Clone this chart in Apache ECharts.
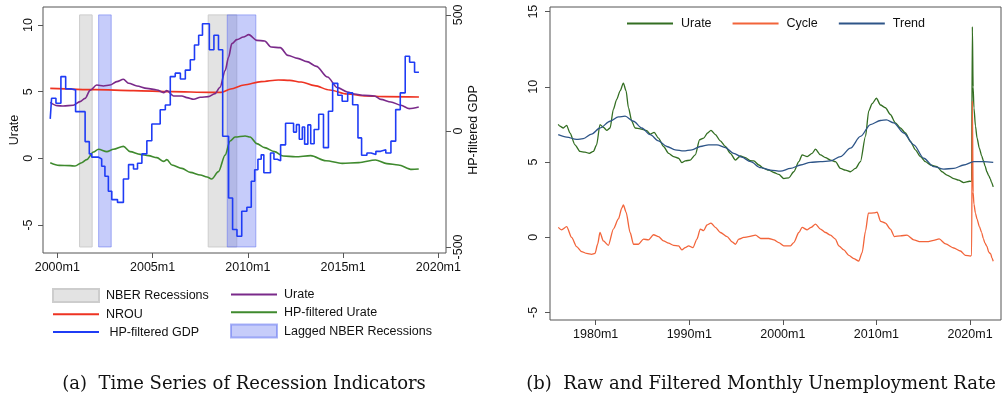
<!DOCTYPE html>
<html>
<head>
<meta charset="utf-8">
<script src="https://cdn.jsdelivr.net/npm/echarts@6.0.0/dist/echarts.min.js"></script>
<style>
  html, body { margin: 0; padding: 0; background: #fff; }
  #chart { width: 1005px; height: 395px; }
</style>
</head>
<body>
<div id="chart"></div>
<script>
// ---------- Panel (a): recession indicators, 1999m8 - 2018m12 (time in years) ----------
const nberRecessions = [[2001.17, 2001.83], [2007.92, 2009.42]];
const laggedNberRecessions = [[2002.17, 2002.83], [2008.92, 2010.42]];
const bandRange = [-500, 500]; // recession shading spans this range of the GDP axis

// HP-filtered GDP: value held from each date until the next one
const hpGdp = [
  [1999.63, 52], [1999.70, 141], [1999.93, 119], [2000.19, 234], [2000.44, 181], [2000.75, 177],
  [2000.96, 83], [2001.46, -46], [2001.68, -99], [2001.81, -113], [2002.16, -121], [2002.33, -152],
  [2002.50, -195], [2002.68, -260], [2002.86, -296], [2003.16, -308], [2003.47, -207], [2003.74, -145],
  [2004.00, -164], [2004.21, -139], [2004.44, -99], [2004.70, -42], [2004.96, 30], [2005.40, 91],
  [2005.67, 112], [2005.93, 234], [2006.19, 249], [2006.46, 224], [2006.72, 262], [2006.98, 307],
  [2007.20, 370], [2007.42, 412], [2007.62, 462], [2007.98, 350], [2008.22, 412], [2008.46, 350],
  [2008.68, -23], [2008.99, -289], [2009.20, -425], [2009.43, -454], [2009.68, -346], [2009.95, -329],
  [2010.18, -217], [2010.36, -167], [2010.53, -122], [2010.70, -103], [2010.84, -180], [2011.19, -95],
  [2011.37, -122], [2011.55, -129], [2011.72, -60], [2011.98, 33], [2012.40, -5], [2012.55, 27],
  [2012.70, -36], [2012.86, 17], [2012.98, -57], [2013.15, 26], [2013.30, -55], [2013.48, 6],
  [2013.72, 72], [2013.97, -72], [2014.23, 85], [2014.45, 205], [2014.72, 154], [2014.95, 128],
  [2015.24, 164], [2015.50, 113], [2015.78, -30], [2015.97, -105], [2016.25, -95], [2016.47, -102],
  [2016.72, -88], [2016.97, -81], [2017.24, -95], [2017.51, -44], [2017.76, 92], [2018.00, 164],
  [2018.26, 322], [2018.49, 296], [2018.75, 253], [2018.98, 253]
];

const urateA = [
  [1999.63, 4.2], [2000.0, 3.95], [2000.32, 3.92], [2000.84, 3.98], [2001.19, 4.25], [2001.46, 4.5],
  [2001.72, 5.1], [2002.07, 5.5], [2002.42, 5.43], [2002.77, 5.5], [2003.12, 5.75], [2003.47, 5.93],
  [2003.74, 5.63], [2004.18, 5.43], [2004.70, 5.25], [2005.23, 5.13], [2005.58, 4.93], [2005.75, 5.08],
  [2006.10, 4.68], [2006.54, 4.68], [2006.80, 4.55], [2007.16, 4.43], [2007.51, 4.58], [2007.93, 4.63],
  [2008.28, 4.85], [2008.54, 5.33], [2008.81, 6.58], [2008.99, 7.58], [2009.16, 8.6], [2009.42, 8.9],
  [2009.77, 9.1], [2010.05, 9.28], [2010.47, 8.85], [2010.88, 8.8], [2011.22, 8.35], [2011.70, 8.3],
  [2012.10, 7.72], [2012.62, 7.5], [2013.10, 7.25], [2013.60, 6.9], [2014.18, 6.1], [2014.70, 5.3],
  [2015.23, 4.98], [2015.60, 4.82], [2016.10, 4.73], [2016.65, 4.68], [2016.98, 4.42], [2017.51, 4.23],
  [2018.04, 3.98], [2018.47, 3.73], [2018.97, 3.85]
];

const nrou = [
  [1999.63, 5.25], [2002.0, 5.15], [2004.0, 5.08], [2006.0, 5.0], [2008.0, 4.95], [2008.6, 4.95],
  [2009.1, 5.2], [2009.8, 5.5], [2010.7, 5.75], [2011.6, 5.88], [2012.2, 5.85], [2012.8, 5.72],
  [2013.5, 5.45], [2014.3, 5.12], [2015.2, 4.82], [2016.2, 4.68], [2017.2, 4.63], [2018.98, 4.6]
];

const hpUrate = [
  [1999.63, -0.33], [2000.1, -0.53], [2000.67, -0.55], [2000.93, -0.58], [2001.28, -0.33], [2001.54, -0.1],
  [2001.9, 0.48], [2002.16, 0.68], [2002.6, 0.5], [2002.95, 0.68], [2003.47, 0.9], [2003.82, 0.5],
  [2004.35, 0.3], [2004.79, 0.2], [2005.23, 0.05], [2005.58, -0.23], [2005.75, -0.1], [2006.02, -0.5],
  [2006.54, -0.75], [2006.98, -1.05], [2007.51, -1.25], [2007.86, -1.4], [2008.1, -1.55], [2008.46, -1.0],
  [2008.81, 0.25], [2009.07, 1.3], [2009.33, 1.6], [2009.86, 1.68], [2010.12, 1.6], [2010.47, 1.1],
  [2010.88, 0.8], [2011.4, 0.5], [2011.85, 0.18], [2012.5, 0.12], [2013.3, 0.2], [2014.1, -0.18],
  [2014.95, -0.38], [2015.82, -0.32], [2016.7, -0.12], [2017.3, -0.4], [2017.9, -0.5], [2018.6, -0.83],
  [2018.97, -0.8]
];

const yearTicksA = [2000, 2005, 2010, 2015, 2020];
const urateTicksA = [-5, 0, 5, 10];
const gdpTicksA = [-500, 0, 500];

// ---------- Panel (b): monthly unemployment rate, 1976m1 - 2022m7 ----------
const urateB = [
  [1976.0, 7.5], [1976.18, 7.38], [1976.54, 7.26], [1976.9, 7.44], [1977.25, 6.93], [1977.79, 6.14],
  [1978.32, 5.7], [1978.86, 5.65], [1979.32, 5.58], [1979.75, 5.7], [1980.1, 6.14], [1980.46, 7.49],
  [1980.82, 7.31], [1981.18, 7.11], [1981.54, 7.26], [1981.89, 8.5], [1982.25, 9.17], [1982.61, 9.73],
  [1982.96, 10.25], [1983.25, 9.73], [1983.5, 8.61], [1983.86, 7.71], [1984.21, 7.26], [1984.75, 7.2],
  [1985.46, 7.09], [1985.82, 6.86], [1986.25, 6.97], [1986.71, 6.59], [1987.25, 6.03], [1987.79, 5.58],
  [1988.32, 5.36], [1988.86, 5.25], [1989.21, 4.96], [1989.57, 5.07], [1990.11, 5.13], [1990.64, 5.47],
  [1991.11, 6.48], [1991.54, 6.59], [1991.96, 6.93], [1992.32, 7.11], [1992.79, 6.82], [1993.32, 6.41],
  [1993.86, 6.03], [1994.39, 5.58], [1994.93, 5.13], [1995.46, 5.4], [1996.0, 5.29], [1996.54, 5.09],
  [1996.9, 5.07], [1997.44, 4.8], [1997.97, 4.57], [1998.5, 4.46], [1999.04, 4.3], [1999.57, 4.17],
  [2000.1, 3.9], [2000.64, 3.95], [2001.17, 4.35], [2001.71, 5.02], [2002.06, 5.47], [2002.6, 5.36],
  [2003.13, 5.58], [2003.49, 5.85], [2004.02, 5.47], [2004.56, 5.29], [2005.09, 5.13], [2005.62, 5.02],
  [2006.16, 4.57], [2006.69, 4.46], [2007.22, 4.35], [2007.76, 4.57], [2008.29, 5.02], [2008.83, 6.7],
  [2009.18, 8.4], [2009.54, 8.88], [2010.0, 9.24], [2010.43, 8.79], [2010.96, 8.61], [2011.49, 8.16],
  [2012.03, 7.6], [2012.56, 7.26], [2013.1, 6.93], [2013.63, 6.37], [2014.16, 5.81], [2014.7, 5.36],
  [2015.23, 5.02], [2015.77, 4.8], [2016.48, 4.69], [2017.01, 4.35], [2017.54, 4.13], [2018.26, 3.9],
  [2018.79, 3.79], [2019.32, 3.63], [2019.96, 3.72], [2020.17, 3.7], [2020.25, 14.0], [2020.33, 10.0],
  [2020.42, 8.6], [2020.58, 7.4], [2020.75, 6.6], [2021.0, 5.9], [2021.25, 5.4], [2021.42, 5.1],
  [2021.6, 4.75], [2021.8, 4.35], [2022.0, 4.1], [2022.15, 3.9], [2022.3, 3.65], [2022.48, 3.34]
];

const cycleB = [
  [1976.0, 0.65], [1976.36, 0.49], [1976.9, 0.7], [1977.43, -0.02], [1977.96, -0.63], [1978.5, -0.96],
  [1979.04, -1.08], [1979.57, -1.14], [1979.93, -1.08], [1980.21, -0.47], [1980.46, 0.31], [1980.82, -0.25],
  [1981.36, -0.54], [1981.89, 0.54], [1982.43, 1.21], [1982.79, 1.93], [1982.96, 2.15], [1983.25, 1.66],
  [1983.68, 0.31], [1984.04, -0.47], [1984.57, -0.47], [1985.11, -0.13], [1985.64, -0.18], [1986.18, 0.16],
  [1986.71, 0.04], [1987.25, -0.25], [1987.79, -0.4], [1988.32, -0.54], [1988.86, -0.58], [1989.21, -0.85],
  [1989.57, -0.7], [1989.93, -0.58], [1990.39, -0.7], [1990.82, -0.13], [1991.18, 0.54], [1991.54, 0.43],
  [1991.89, 0.81], [1992.32, 0.94], [1992.79, 0.65], [1993.32, 0.31], [1994.04, 0.04], [1994.57, -0.31],
  [1994.93, -0.47], [1995.29, -0.13], [1995.82, -0.02], [1996.36, 0.04], [1997.08, 0.13], [1997.62, -0.09],
  [1998.5, -0.09], [1999.04, -0.18], [1999.57, -0.36], [2000.1, -0.58], [2000.82, -0.58], [2001.17, -0.36],
  [2001.71, 0.31], [2002.06, 0.65], [2002.6, 0.49], [2003.02, 0.65], [2003.49, 0.87], [2004.02, 0.54],
  [2004.56, 0.31], [2005.09, 0.13], [2005.62, -0.13], [2005.98, -0.58], [2006.51, -0.85], [2007.05, -1.21],
  [2007.58, -1.43], [2008.11, -1.59], [2008.47, -1.03], [2008.83, 0.4], [2009.14, 1.6], [2009.72, 1.61],
  [2010.07, 1.66], [2010.45, 1.05], [2010.96, 0.94], [2011.49, 0.54], [2011.92, 0.04], [2012.56, 0.09],
  [2013.27, 0.13], [2013.99, -0.18], [2014.7, -0.3], [2015.41, -0.3], [2016.12, -0.22], [2016.7, -0.12],
  [2017.4, -0.45], [2018.26, -0.72], [2018.97, -0.92], [2019.5, -1.21], [2020.04, -1.26], [2020.17, -1.2],
  [2020.25, 9.06], [2020.33, 3.0], [2020.42, 2.2], [2020.58, 1.6], [2020.75, 1.2], [2021.0, 0.7],
  [2021.25, 0.3], [2021.42, -0.1], [2021.6, -0.4], [2021.8, -0.6], [2022.0, -1.0], [2022.2, -1.1],
  [2022.35, -1.4], [2022.48, -1.6]
];

const trendB = [
  [1976.0, 6.82], [1976.9, 6.66], [1977.96, 6.5], [1978.68, 6.55], [1979.57, 6.86], [1980.46, 7.26],
  [1981.54, 7.71], [1982.43, 8.0], [1983.14, 8.05], [1984.04, 7.71], [1984.93, 7.26], [1985.82, 6.82],
  [1986.71, 6.41], [1987.61, 6.03], [1988.5, 5.81], [1989.39, 5.74], [1990.29, 5.81], [1991.18, 6.03],
  [1992.07, 6.14], [1992.96, 6.14], [1993.86, 5.96], [1994.75, 5.58], [1995.6, 5.33], [1996.55, 5.02],
  [1997.62, 4.62], [1998.68, 4.46], [1999.75, 4.39], [2000.82, 4.57], [2001.89, 4.8], [2002.95, 4.98],
  [2004.02, 5.02], [2005.09, 5.07], [2006.16, 5.36], [2007.22, 5.92], [2008.29, 6.7], [2009.36, 7.49],
  [2010.43, 7.76], [2011.07, 7.8], [2011.85, 7.6], [2012.92, 6.93], [2013.99, 6.14], [2015.05, 5.25],
  [2016.12, 4.69], [2017.19, 4.53], [2018.26, 4.57], [2019.32, 4.8], [2020.39, 5.02], [2021.46, 5.02],
  [2022.48, 4.98]
];

const yearTicksB = [1980, 1990, 2000, 2010, 2020];
const urateTicksB = [-5, 0, 5, 10, 15];

// ---------- drawing ----------
const FONT = 'Liberation Sans';
const INK = '#111';
const FRAME = '#555';

function yearLabel(v) { return v + 'm1'; }

function bandItem(params, api) {
  const topLeft = api.coord([api.value(0), bandRange[1]]);
  const bottomRight = api.coord([api.value(1), bandRange[0]]);
  return {
    type: 'rect',
    shape: { x: topLeft[0], y: topLeft[1], width: bottomRight[0] - topLeft[0], height: bottomRight[1] - topLeft[1] },
    style: api.style()
  };
}

function xAxisCfg(gridIndex, min, max, ticks) {
  return {
    type: 'value', gridIndex, min, max,
    axisLine: { show: false, onZero: false },
    splitLine: { show: false },
    axisTick: { show: true, length: 5, customValues: ticks, lineStyle: { color: FRAME } },
    axisLabel: { customValues: ticks, formatter: yearLabel, margin: 8, fontSize: 12.5, color: INK, fontFamily: FONT }
  };
}

function yAxisCfg(gridIndex, position, min, max, ticks, name, labelMargin) {
  return {
    type: 'value', gridIndex, position, min, max,
    name, nameLocation: 'middle', nameRotate: 90, nameGap: 21,
    nameTextStyle: { fontSize: 12.5, color: INK, fontFamily: FONT },
    axisLine: { show: false, onZero: false },
    splitLine: { show: false },
    axisTick: { show: true, length: 5, customValues: ticks, lineStyle: { color: FRAME } },
    axisLabel: { customValues: ticks, rotate: 90, margin: labelMargin, fontSize: 12.5, color: INK, fontFamily: FONT }
  };
}

function lineSeries(name, data, color, xi, yi, width, extra) {
  return Object.assign({
    type: 'line', name, data, xAxisIndex: xi, yAxisIndex: yi,
    symbol: 'none', smooth: 0.3, smoothMonotone: 'x',
    lineStyle: { color, width }, itemStyle: { color }
  }, extra || {});
}

// legend entry for a line: just the stroke, no marker
function lineKey(name) { return { name, itemStyle: { opacity: 0 } }; }

const legendText = { fontSize: 12.5, color: INK, fontFamily: FONT };

const option = {
  animation: false,
  backgroundColor: '#fff',
  textStyle: { fontFamily: FONT },
  grid: [
    { left: 43, top: 7, width: 403, height: 246, show: true, borderColor: FRAME, borderWidth: 1 },
    { left: 550, top: 7, width: 451, height: 313, show: true, borderColor: FRAME, borderWidth: 1 }
  ],
  xAxis: [
    xAxisCfg(0, 1999.25, 2020.40, yearTicksA),
    xAxisCfg(1, 1975.12, 2023.31, yearTicksB)
  ],
  yAxis: [
    yAxisCfg(0, 'left', -7.1, 11.35, urateTicksA, 'Urate', 8),
    yAxisCfg(0, 'right', -526, 534, gdpTicksA, 'HP-filtered GDP', 6),
    yAxisCfg(1, 'left', -5.51, 15.31, urateTicksB, '', 10)
  ],
  legend: [
    {
      orient: 'vertical', left: 52, top: 288, padding: 0, itemWidth: 46, itemHeight: 13, itemGap: 4.8,
      selectedMode: false, textStyle: Object.assign({ padding: [0, 0, 0, 2] }, legendText),
      data: [{ name: 'NBER Recessions', icon: 'rect' }, lineKey('NROU'), lineKey(' HP-filtered GDP')]
    },
    {
      orient: 'vertical', left: 230, top: 288, padding: 0, itemWidth: 46, itemHeight: 13, itemGap: 4.8,
      selectedMode: false, textStyle: Object.assign({ padding: [0, 0, 0, 2] }, legendText),
      data: [lineKey('Urate'), lineKey('HP-filtered Urate'), { name: 'Lagged NBER Recessions', icon: 'rect' }]
    },
    {
      orient: 'horizontal', left: 626, top: 17, padding: 0, itemWidth: 46, itemHeight: 13, itemGap: 20,
      selectedMode: false, textStyle: Object.assign({ padding: [0, 0, 0, 3] }, legendText),
      formatter: n => n.trim(),
      data: [lineKey('Urate '), lineKey('Cycle'), lineKey('Trend')]
    }
  ],
  series: [
    {
      type: 'custom', name: 'NBER Recessions', xAxisIndex: 0, yAxisIndex: 1,
      data: nberRecessions, encode: { x: [0, 1] }, renderItem: bandItem,
      itemStyle: { color: '#e3e3e3', borderColor: '#cdcdcd', borderWidth: 1 }
    },
    {
      type: 'custom', name: 'Lagged NBER Recessions', xAxisIndex: 0, yAxisIndex: 1,
      data: laggedNberRecessions, encode: { x: [0, 1] }, renderItem: bandItem,
      itemStyle: { color: 'rgba(88,106,240,0.34)', borderColor: 'rgba(88,106,240,0.5)', borderWidth: 1 }
    },
    lineSeries('NROU', nrou, '#ee3322', 0, 0, 1.6),
    lineSeries('Urate', urateA, '#7a2a8a', 0, 0, 1.6),
    lineSeries('HP-filtered Urate', hpUrate, '#3f8a2e', 0, 0, 1.6),
    lineSeries(' HP-filtered GDP', hpGdp, '#1f3cf5', 0, 1, 1.6, { step: 'end', smooth: false }),
    lineSeries('Urate ', urateB, '#336e22', 1, 2, 1.3, { smooth: 0.25 }),
    lineSeries('Cycle', cycleB, '#f2643a', 1, 2, 1.3, { smooth: 0.25 }),
    lineSeries('Trend', trendB, '#2e5588', 1, 2, 1.3)
  ],
  graphic: [
    {
      type: 'text', x: 244, y: 384,
      style: { text: '(a)  Time Series of Recession Indicators', font: '18px "DejaVu Serif"', fill: INK, textAlign: 'center', textVerticalAlign: 'middle' }
    },
    {
      type: 'text', x: 761, y: 384,
      style: { text: '(b)  Raw and Filtered Monthly Unemployment Rate', font: '18px "DejaVu Serif"', fill: INK, textAlign: 'center', textVerticalAlign: 'middle' }
    }
  ]
};

const chart = echarts.init(document.getElementById('chart'), null, { renderer: 'canvas' });
chart.setOption(option);
</script>
</body>
</html>
